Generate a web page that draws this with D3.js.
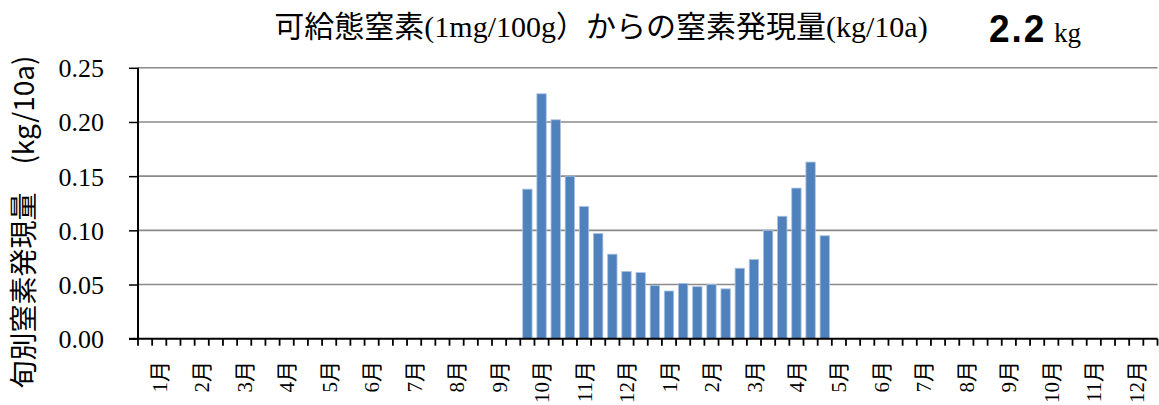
<!DOCTYPE html>
<html><head><meta charset="utf-8">
<script src="https://cdn.jsdelivr.net/npm/d3@7"></script>
<style>
html,body{margin:0;padding:0;background:#fff;}
svg{display:block;}
</style></head>
<body><svg id="c" width="1159" height="405"></svg>
<script>
const monthLabels = ["1月","2月","3月","4月","5月","6月","7月","8月","9月","10月","11月","12月",
                     "1月","2月","3月","4月","5月","6月","7月","8月","9月","10月","11月","12月"];
const dekadsPerMonth = ["上旬","中旬","下旬"];
// 72 dekads (2 years); values in kg/10a
const values = [
  0,0,0, 0,0,0, 0,0,0, 0,0,0, 0,0,0, 0,0,0, 0,0,0, 0,0,0, 0,0,0,
  0.138,0.226,0.202, 0.150,0.122,0.097, 0.078,0.062,0.061,
  0.049,0.044,0.051, 0.048,0.050,0.046, 0.065,0.073,0.100, 0.113,0.139,0.163,
  0.095,0,0, 0,0,0, 0,0,0, 0,0,0, 0,0,0, 0,0,0, 0,0,0, 0,0,0
];
const yTicks = [0,0.05,0.10,0.15,0.20,0.25];
const titleText = "可給態窒素(1mg/100g）からの窒素発現量(kg/10a)";
const totalValue = "2.2";
const totalUnit = "kg";
const yTitle = "旬別窒素発現量　(kg/10a)";

const svg = d3.select("#c");
const L = 138, R = 1157.5, T = 67.8, B = 338.7;

const cats = d3.range(values.length);
const x = d3.scaleBand().domain(cats).range([L, R]).paddingInner(0.34).paddingOuter(0.17);
const xb = d3.scaleBand().domain(cats).range([L, R]);
const y = d3.scaleLinear().domain([0, 0.25]).range([B, T]);

// gridlines
svg.append("g").selectAll("line").data(yTicks.filter(d => d > 0)).join("line")
  .attr("x1", L).attr("x2", R).attr("y1", d => y(d)).attr("y2", d => y(d))
  .attr("stroke", "#8a8a8a").attr("stroke-width", 1.6);

// bars
svg.append("g").selectAll("rect").data(cats.filter(i => values[i] > 0)).join("rect")
  .attr("x", i => x(i)).attr("width", x.bandwidth())
  .attr("y", i => y(values[i])).attr("height", i => B - y(values[i]))
  .attr("fill", "#4f81bd").attr("stroke", "#a9c1e0").attr("stroke-width", 0.8);

// y axis
const yAxis = d3.axisLeft(y).tickValues(yTicks).tickSize(9).tickFormat(d3.format(".2f"));
const gy = svg.append("g").attr("transform", `translate(${L},0)`).call(yAxis);
gy.attr("font-family", "'Liberation Serif', serif").attr("font-size", 26);
gy.select(".domain").attr("stroke", "#000").attr("stroke-width", 2).attr("d", `M0,${T}V${B}`);
gy.selectAll(".tick line").attr("stroke", "#000").attr("stroke-width", 1.5);
gy.selectAll(".tick text").attr("x", -34).attr("dy", "0.34em")
  .style("font-family", "'Liberation Serif', serif").style("font-size", "26px").attr("fill", "#000");

// x axis line
svg.append("line").attr("x1", L - 9).attr("x2", R).attr("y1", B).attr("y2", B)
  .attr("stroke", "#000").attr("stroke-width", 2);
// dekad boundary ticks
const bounds = cats.map(i => xb(i)).concat([R]);
svg.append("g").selectAll("line").data(bounds).join("line")
  .attr("x1", d => d).attr("x2", d => d).attr("y1", B).attr("y2", B + 7)
  .attr("stroke", "#000").attr("stroke-width", 1.8);

// month labels on middle dekad
svg.append("g").selectAll("text").data(monthLabels).join("text")
  .attr("transform", (d, m) => {
    const i = m * 3 + 1;
    return `translate(${xb(i) + xb.bandwidth() / 2},361) rotate(-90)`;
  })
  .attr("text-anchor", "end").attr("dy", "0.36em")
  .style("font-family", "'Liberation Serif', 'Noto Sans CJK JP', serif").style("font-size", "21px").attr("fill", "#000")
  .text(d => d);

// title
svg.append("text").attr("x", 601).attr("y", 37).attr("text-anchor", "middle")
  .style("font-family", "'Liberation Serif', 'Noto Sans CJK JP', serif").style("font-size", "30px").attr("fill", "#000")
  .text(titleText);
svg.append("text").attr("transform", "translate(989,42) scale(0.95,1)")
  .style("font-family", "'Liberation Sans', sans-serif").style("font-weight", "bold")
  .style("font-size", "39px").attr("letter-spacing", 2).attr("fill", "#000").text(totalValue);
svg.append("text").attr("x", 1054).attr("y", 42)
  .style("font-family", "'Liberation Serif', serif").style("font-size", "27px").attr("fill", "#000").text(totalUnit);

// y title
svg.append("text").attr("transform", "translate(24,222) rotate(-90)")
  .attr("text-anchor", "middle").attr("dy", "0.36em")
  .style("font-family", "'Noto Sans CJK JP', sans-serif").style("font-size", "28px").attr("fill", "#000")
  .text(yTitle);
</script></body></html>
